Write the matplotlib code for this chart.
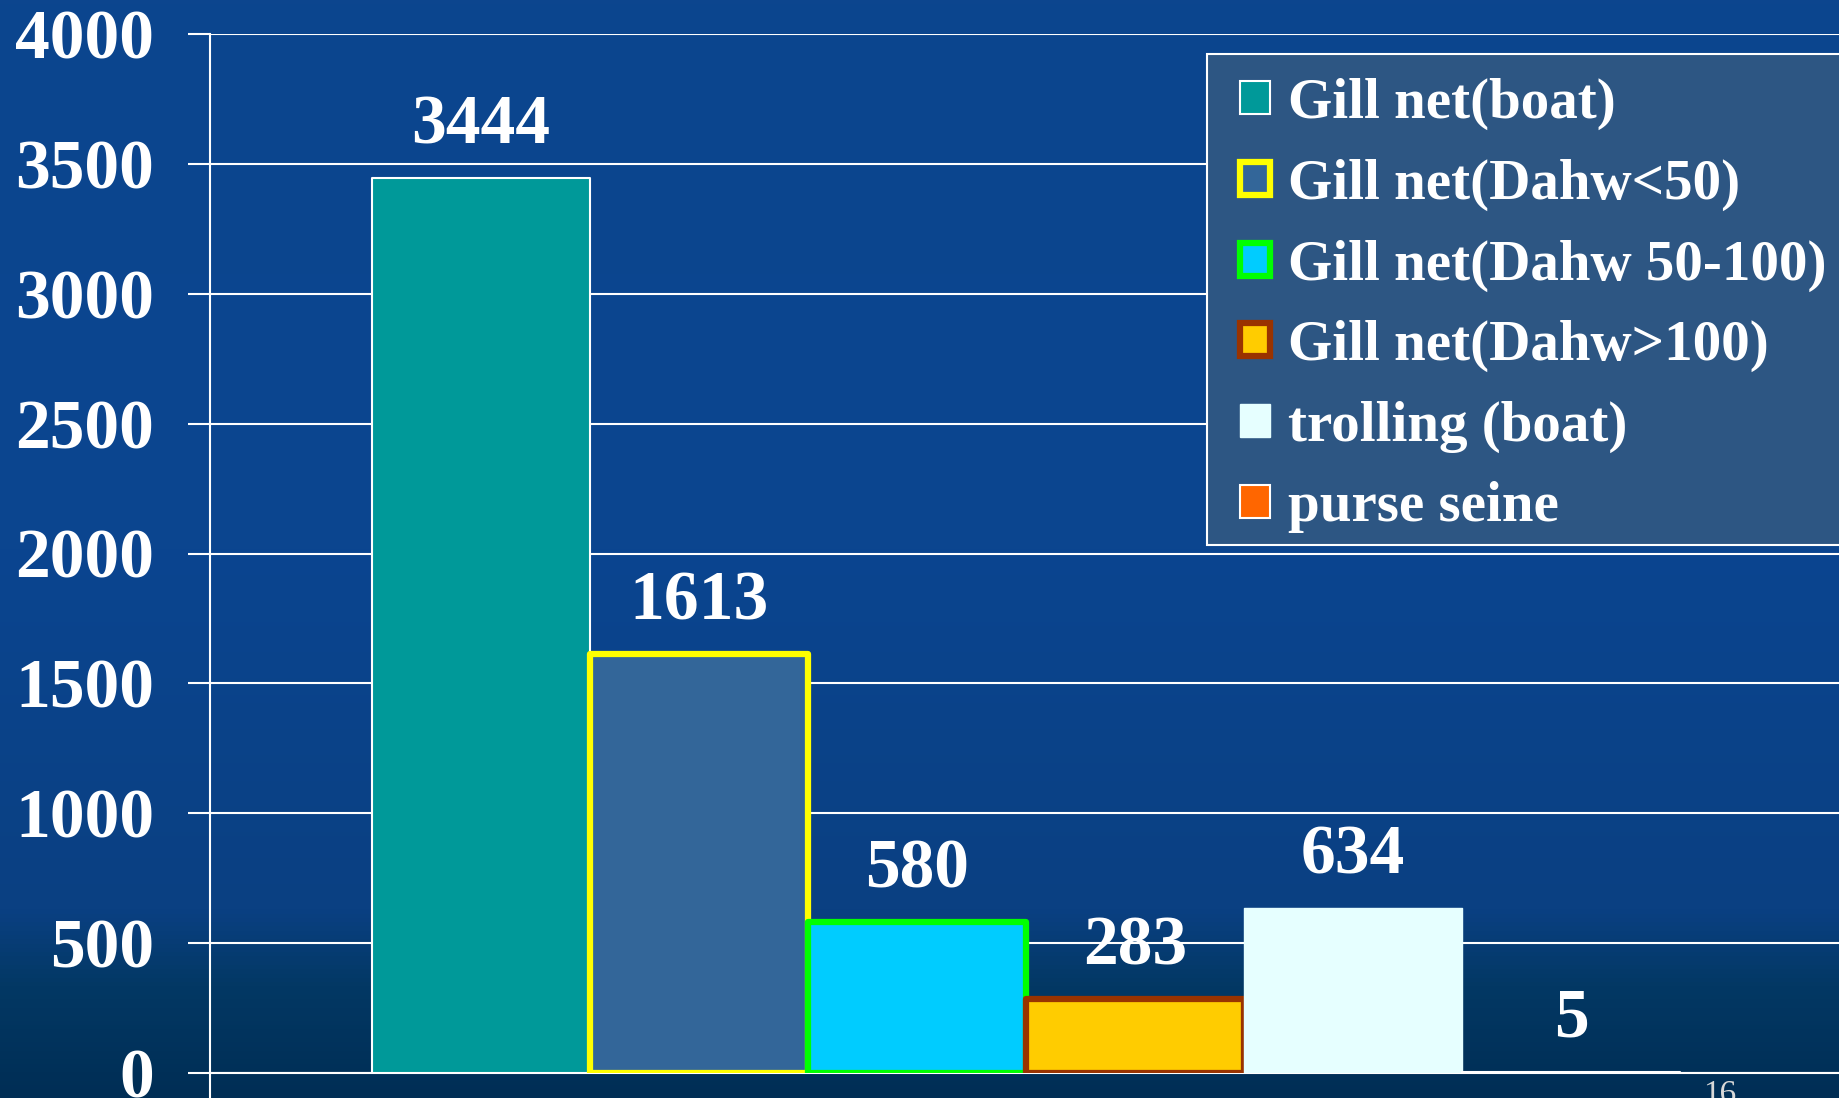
import numpy as np
import matplotlib.pyplot as plt
from matplotlib.colors import LinearSegmentedColormap
from matplotlib.patches import Rectangle

# data
labels = ['Gill net(boat)', 'Gill net(Dahw<50)', 'Gill net(Dahw 50-100)',
          'Gill net(Dahw>100)', 'trolling (boat)', 'purse seine']
values = [3444, 1613, 580, 283, 634, 5]
yticks = [0, 500, 1000, 1500, 2000, 2500, 3000, 3500, 4000]

faces = ['#009999', '#336699', '#00ccff', '#ffcc00', '#e6ffff', '#ff6600']
edges = ['white', '#ffff00', '#00ff00', '#993300', '#e6ffff', 'white']
lws = [1.5, 4.5, 4.5, 4.5, 1.0, 1.5]

serif = 'Liberation Serif'
W, H = 1839, 1098

fig = plt.figure(figsize=(W/100, H/100), dpi=100)

# background
bg = fig.add_axes([0, 0, 1, 1], zorder=-10)
cmap = LinearSegmentedColormap.from_list('bg', [
    (0.0, '#0c458e'), (0.5, '#0b4590'), (0.83, '#0a4082'),
    (0.9, '#033864'), (1.0, '#002e55')])
grad = np.linspace(0, 1, 256).reshape(-1, 1)
bg.imshow(grad, aspect='auto', cmap=cmap, extent=[0, 1, 0, 1], origin='upper')
bg.axis('off')

ax = fig.add_axes([210/W, 1-1073/H, 1632/W, (1073-34)/H])
ax.set_facecolor('none')

w = 0.1336
x = [0.5 + (i - 2.5) * w for i in range(len(values))]
for i in range(len(values)):
    ax.bar(x[i], values[i], width=w, color=faces[i], edgecolor=edges[i],
           linewidth=lws[i], label=labels[i], zorder=3, joinstyle='round')
    ax.annotate(str(values[i]), (x[i], values[i]), xytext=(0, 25),
                textcoords='offset points', ha='center', va='baseline',
                color='white', fontsize=50, fontweight='bold', family=serif,
                zorder=5)

ax.set_xlim(0, 1)
ax.set_ylim(0, 4000)
ax.set_yticks(yticks)
ax.set_yticklabels([str(v) for v in yticks], fontsize=50, fontweight='bold',
                   family=serif, color='white')
ax.set_xticks([0, 1])
ax.set_xticklabels(['', ''])
ax.tick_params(axis='y', length=16, width=1.5, color='white', pad=24)
ax.tick_params(axis='x', length=22, width=1.5, color='white')
ax.yaxis.grid(True, color='white', linewidth=1.5, zorder=0)
ax.set_axisbelow(True)
for s in ['top', 'right']:
    ax.spines[s].set_visible(False)
for s in ['left', 'bottom']:
    ax.spines[s].set_color('white')
    ax.spines[s].set_linewidth(1.5)

# legend box drawn separately so its padding can be set freely
box = Rectangle((1207/W, 1-545/H), (W+20-1207)/W, (545-54)/H,
                transform=fig.transFigure, facecolor='#2d5683',
                edgecolor='white', linewidth=1.5, zorder=4)
fig.patches.append(box)

leg = fig.legend(loc='upper left', bbox_to_anchor=(1240/W, 1-78/H),
                 borderaxespad=0, prop={'family': serif, 'weight': 'bold', 'size': 41},
                 labelcolor='white', handlelength=0.52, handleheight=0.52,
                 handletextpad=0.32, labelspacing=0.5, borderpad=0,
                 frameon=False)
leg.set_zorder(5)

fig.text(1720/W, -0.005, '16', fontsize=24, family=serif, color='#d8d8d8',
         ha='center', va='baseline')

fig.savefig('out.png', dpi=100)
